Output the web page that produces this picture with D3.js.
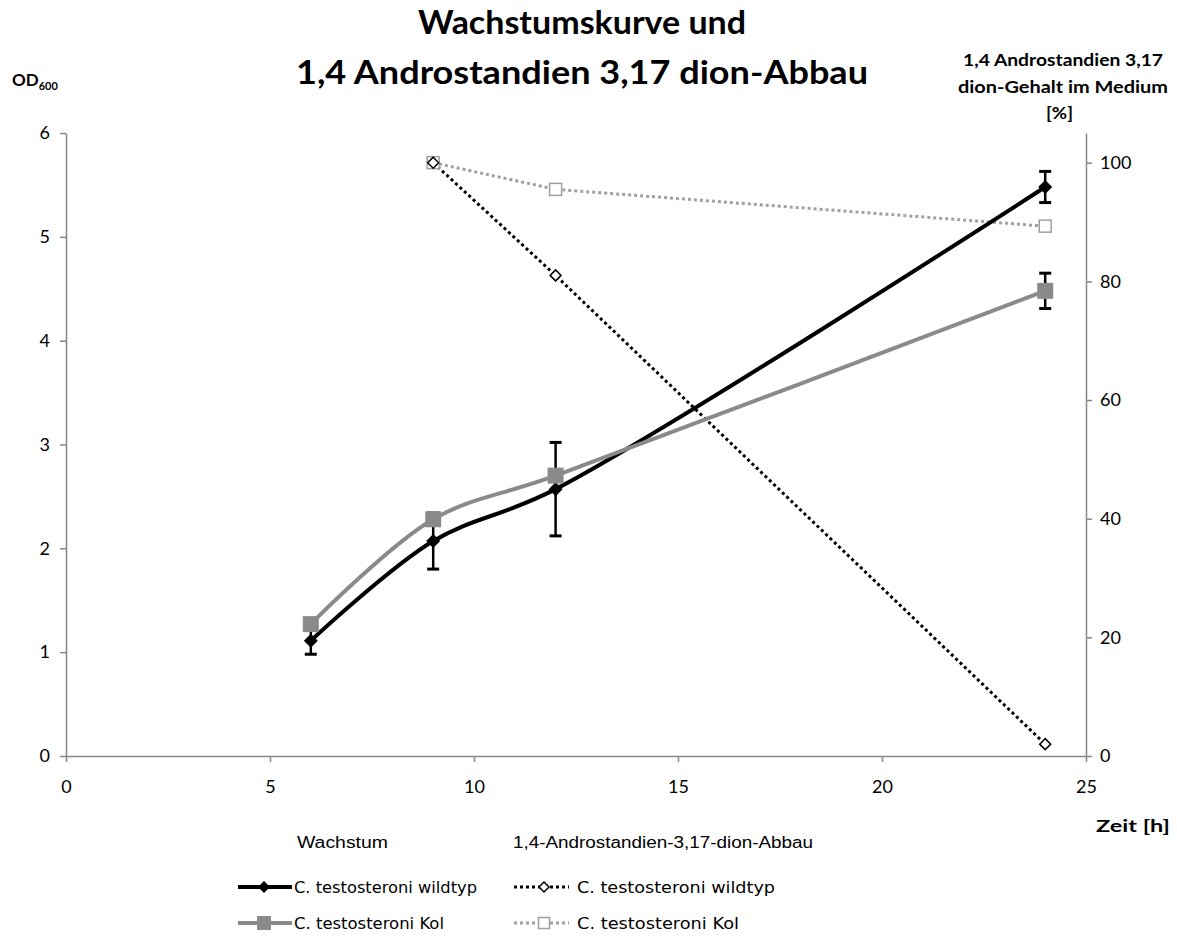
<!DOCTYPE html>
<html><head><meta charset="utf-8">
<script src="https://cdn.jsdelivr.net/npm/d3@7"></script>
<style>body{margin:0;background:#fff}svg{display:block}</style>
</head><body>
<script>
// Data
const hours = [6, 9, 12, 24];
const odWild = [1.11, 2.07, 2.57, 5.48];
const odWildErr = [0.13, 0.27, 0.45, 0.15];
const odKol = [1.27, 2.28, 2.70, 4.48];
const odKolErr = [0, 0, 0, 0.17];
const abbauHours = [9, 12, 24];
const abbauWild = [100, 81, 2];
const abbauKol = [100, 95.5, 89.3];
const xTicks = [0, 5, 10, 15, 20, 25];
const yLeftTicks = [0, 1, 2, 3, 4, 5, 6];
const yRightTicks = [0, 20, 40, 60, 80, 100];

const W = 1177, H = 937;
const svg = d3.select("body").append("svg").attr("width", W).attr("height", H);
const L = 66, R = 1086, T = 133, B = 756;
const x = d3.scaleLinear().domain([0, 25]).range([L, R]);
const yL = d3.scaleLinear().domain([0, 6]).range([B, T]);
const yR = d3.scaleLinear().domain([0, 105]).range([B, T]);
const axisCol = "#868686";
const tickFont = "Lato, 'Open Sans', sans-serif";

// Axes
const gx = svg.append("g").attr("transform", `translate(0,${B})`)
  .call(d3.axisBottom(x).tickValues(xTicks).tickFormat(d3.format("d")).tickSize(6).tickSizeOuter(0));
const gyl = svg.append("g").attr("transform", `translate(${L},0)`)
  .call(d3.axisLeft(yL).tickValues(yLeftTicks).tickFormat(d3.format("d")).tickSize(6).tickSizeOuter(0));
const gyr = svg.append("g").attr("transform", `translate(${R},0)`)
  .call(d3.axisRight(yR).tickValues(yRightTicks).tickFormat(d3.format("d")).tickSize(6).tickSizeOuter(0));
[gx, gyl, gyr].forEach(g => {
  g.select(".domain").attr("stroke", axisCol).attr("stroke-width", 1.5);
  g.selectAll(".tick line").attr("stroke", axisCol).attr("stroke-width", 1.5);
  g.selectAll(".tick text").attr("fill", "#000").attr("font-size", 18).attr("font-family", tickFont);
});
gx.selectAll(".tick text").attr("dy", "1.55em");
gyl.selectAll(".tick text").attr("x", -16);
gyr.selectAll(".tick text").attr("x", 14);

// Lines
const lineL = d3.line().x(d => x(d[0])).y(d => yL(d[1])).curve(d3.curveCatmullRom.alpha(0.5));
const lineR = d3.line().x(d => x(d[0])).y(d => yR(d[1]));
const kolCol = "#8a8a8a";
const kolDot = "#a0a0a0";

svg.append("path").datum(abbauHours.map((h, i) => [h, abbauKol[i]]))
  .attr("d", lineR).attr("fill", "none").attr("stroke", kolDot).attr("stroke-width", 3).attr("stroke-dasharray", "3,3");
svg.append("path").datum(abbauHours.map((h, i) => [h, abbauWild[i]]))
  .attr("d", lineR).attr("fill", "none").attr("stroke", "#000").attr("stroke-width", 3).attr("stroke-dasharray", "3,3");

svg.append("path").datum(hours.map((h, i) => [h, odWild[i]]))
  .attr("d", lineL).attr("fill", "none").attr("stroke", "#000").attr("stroke-width", 4);
svg.append("path").datum(hours.map((h, i) => [h, odKol[i]]))
  .attr("d", lineL).attr("fill", "none").attr("stroke", kolCol).attr("stroke-width", 4);

// Error bars
function errBars(vals, errs) {
  hours.forEach((h, i) => {
    if (!errs[i]) return;
    const cx = x(h), y1 = yL(vals[i] + errs[i]), y2 = yL(vals[i] - errs[i]);
    svg.append("line").attr("x1", cx).attr("x2", cx).attr("y1", y1).attr("y2", y2).attr("stroke", "#000").attr("stroke-width", 2.5);
    [y1, y2].forEach(yy => svg.append("line").attr("x1", cx - 6).attr("x2", cx + 6).attr("y1", yy).attr("y2", yy).attr("stroke", "#000").attr("stroke-width", 3));
  });
}
errBars(odWild, odWildErr);
errBars(odKol, odKolErr);

// Markers
const diamond = (s) => `M0,${-s}L${s},0L0,${s}L${-s},0Z`;
hours.forEach((h, i) => {
  svg.append("path").attr("d", diamond(7)).attr("transform", `translate(${x(h)},${yL(odWild[i])})`).attr("fill", "#000");
  svg.append("rect").attr("x", x(h) - 8).attr("y", yL(odKol[i]) - 8).attr("width", 16).attr("height", 16).attr("fill", kolCol);
});
abbauHours.forEach((h, i) => {
  svg.append("rect").attr("x", x(h) - 6).attr("y", yR(abbauKol[i]) - 6).attr("width", 12).attr("height", 12)
    .attr("fill", "#fff").attr("stroke", kolDot).attr("stroke-width", 1.5);
  svg.append("path").attr("d", diamond(5.5)).attr("transform", `translate(${x(h)},${yR(abbauWild[i])})`)
    .attr("fill", "#fff").attr("stroke", "#000").attr("stroke-width", 1.5);
});

// Text helper with fixed width
function txt(xp, y, s, size, weight, family, len, anchor) {
  const t = svg.append("text").attr("x", xp).attr("y", y).attr("font-family", family)
    .attr("font-size", size).attr("font-weight", weight).text(s);
  if (anchor) t.attr("text-anchor", anchor);
  if (len) t.attr("textLength", len).attr("lengthAdjust", "spacingAndGlyphs");
  return t;
}
const bold = "Lato, 'Open Sans', sans-serif";
txt(418, 34, "Wachstumskurve und", 33, "bold", bold, 328);
txt(296, 84, "1,4 Androstandien 3,17 dion-Abbau", 33, "bold", bold, 572);

const od = svg.append("text").attr("x", 12).attr("y", 86).attr("font-family", bold).attr("font-weight", "bold").attr("font-size", 17);
od.append("tspan").text("OD");
od.append("tspan").attr("font-size", 11).attr("dy", 4).text("600");

txt(963, 66, "1,4 Androstandien 3,17", 17, "bold", bold, 200);
txt(958, 93, "dion-Gehalt im Medium", 17, "bold", bold, 210);
txt(1046, 119, "[%]", 17, "bold", bold, 27);
txt(1096, 832, "Zeit [h]", 17, "bold", bold, 74);

// Legend
const legFont = "'Liberation Sans', Arial, sans-serif";
txt(297, 848, "Wachstum", 16, "normal", legFont, 91);
txt(513, 848, "1,4-Androstandien-3,17-dion-Abbau", 16, "normal", legFont, 300);

const legRows = [
  {x0: 238, x1: 292, mx: 264, y: 887, col: "#000", dash: null, w: 4, mk: "dfill", tx: 294, tl: 183, label: "C. testosteroni wildtyp"},
  {x0: 238, x1: 292, mx: 264, y: 923, col: kolCol, dash: null, w: 4, mk: "sfill", tx: 294, tl: 150, label: "C. testosteroni Kol"},
  {x0: 514, x1: 569, mx: 544, y: 887, col: "#000", dash: "3,3", w: 3, mk: "dopen", tx: 577, tl: 198, label: "C. testosteroni wildtyp"},
  {x0: 514, x1: 569, mx: 544, y: 923, col: kolDot, dash: "3,3", w: 3, mk: "sopen", tx: 577, tl: 162, label: "C. testosteroni Kol"}
];
const legFont2 = "'DejaVu Sans', sans-serif";
legRows.forEach(r => {
  const ln = svg.append("line").attr("x1", r.x0).attr("x2", r.x1).attr("y1", r.y).attr("y2", r.y)
    .attr("stroke", r.col).attr("stroke-width", r.w);
  if (r.dash) ln.attr("stroke-dasharray", r.dash);
  const cx = r.mx;
  if (r.mk === "dfill") svg.append("path").attr("d", diamond(6)).attr("transform", `translate(${cx},${r.y})`).attr("fill", "#000");
  if (r.mk === "sfill") svg.append("rect").attr("x", cx - 7).attr("y", r.y - 7).attr("width", 14).attr("height", 14).attr("fill", kolCol);
  if (r.mk === "dopen") svg.append("path").attr("d", diamond(5)).attr("transform", `translate(${cx},${r.y})`).attr("fill", "#fff").attr("stroke", "#000").attr("stroke-width", 1.5);
  if (r.mk === "sopen") svg.append("rect").attr("x", cx - 5.5).attr("y", r.y - 5.5).attr("width", 11).attr("height", 11).attr("fill", "#fff").attr("stroke", kolDot).attr("stroke-width", 1.5);
  txt(r.tx, r.y + 6, r.label, 16, "normal", legFont2, r.tl);
});
</script>
</body></html>
